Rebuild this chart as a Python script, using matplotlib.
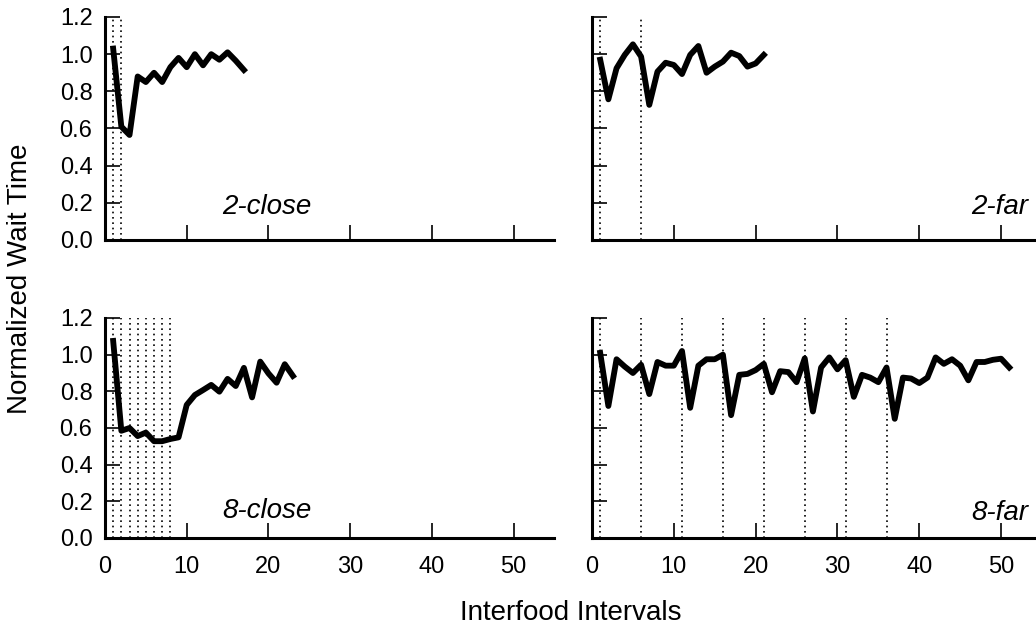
import numpy as np
import matplotlib.pyplot as plt

plt.rcParams['font.family'] = ['Liberation Sans', 'DejaVu Sans']

# normalized wait time per interfood interval, one array per condition
x_2close = np.arange(1, 18)
y_2close = [1.03, 0.61, 0.565, 0.88, 0.85, 0.90, 0.85, 0.93, 0.98, 0.93,
            1.00, 0.94, 1.00, 0.97, 1.01, 0.965, 0.915]

x_2far = np.arange(1, 22)
y_2far = [0.97, 0.757, 0.924, 0.996, 1.053, 0.987, 0.727, 0.906, 0.954, 0.942,
          0.893, 0.996, 1.044, 0.90, 0.933, 0.96, 1.008, 0.99, 0.933, 0.95, 0.996]

x_8close = np.arange(1, 24)
y_8close = [1.075, 0.585, 0.60, 0.556, 0.575, 0.528, 0.528, 0.54, 0.549, 0.726,
            0.78, 0.807, 0.835, 0.798, 0.868, 0.829, 0.928, 0.767, 0.962, 0.898,
            0.847, 0.948, 0.884]

x_8far = np.arange(1, 52)
y_8far = [1.01, 0.72, 0.975, 0.935, 0.90, 0.945, 0.785, 0.96, 0.94, 0.94,
          1.02, 0.71, 0.94, 0.975, 0.975, 1.00, 0.67, 0.89, 0.895, 0.916,
          0.95, 0.795, 0.91, 0.905, 0.85, 0.98, 0.69, 0.93, 0.985, 0.92,
          0.97, 0.77, 0.89, 0.875, 0.85, 0.93, 0.65, 0.875, 0.87, 0.845,
          0.875, 0.985, 0.95, 0.975, 0.94, 0.86, 0.96, 0.96, 0.972, 0.978, 0.93]

# where the dotted reference lines go
marks_2close = [1, 2]
marks_2far = [1, 6]
marks_8close = [1, 2, 3, 4, 5, 6, 7, 8]
marks_8far = [1, 6, 11, 16, 21, 26, 31, 36]

labels = ["2-close", "2-far", "8-close", "8-far"]

fig = plt.figure(figsize=(10.36, 6.31), dpi=100)

W, H = 1036, 631
left_l, left_r = 105 / W, 592 / W
width_l, width_r = 449.4 / W, 450 / W
bot_t, h_t = (H - 240) / H, 223 / H
bot_b, h_b = (H - 538) / H, 220 / H

ax_tl = fig.add_axes([left_l, bot_t, width_l, h_t])
ax_tr = fig.add_axes([left_r, bot_t, width_r, h_t])
ax_bl = fig.add_axes([left_l, bot_b, width_l, h_b])
ax_br = fig.add_axes([left_r, bot_b, width_r, h_b])

panels = [
    (ax_tl, x_2close, y_2close, marks_2close, labels[0], 19.8, 0.14, 'center'),
    (ax_tr, x_2far, y_2far, marks_2far, labels[1], 53.3, 0.14, 'right'),
    (ax_bl, x_8close, y_8close, marks_8close, labels[2], 19.8, 0.11, 'center'),
    (ax_br, x_8far, y_8far, marks_8far, labels[3], 53.3, 0.10, 'right'),
]

for ax, xs, ys, marks, lab, tx, ty, ha in panels:
    for m in marks:
        ax.axvline(m, color='black', lw=1.2, linestyle=(0, (1, 2.2)))
    ax.plot(xs, ys, color='black', lw=4.2)
    ax.text(tx, ty, lab, fontsize=20, style='italic', ha=ha, va='baseline')

    ax.set_xlim(0, 55)
    ax.set_ylim(0, 1.2)
    ax.set_xticks([0, 10, 20, 30, 40, 50])
    ax.set_yticks([0, 0.2, 0.4, 0.6, 0.8, 1.0, 1.2])
    ax.spines['top'].set_visible(False)
    ax.spines['right'].set_visible(False)
    ax.spines['left'].set_linewidth(2.2)
    ax.spines['bottom'].set_linewidth(2.2)
    ax.tick_params(direction='in', length=11, width=1.2, labelsize=17)
    ax.tick_params(axis='x', pad=13)
    ax.tick_params(axis='y', pad=9)

# top row: no x labels; right column: no y labels
for ax in [ax_tl, ax_tr]:
    ax.set_xticklabels([])
for ax in [ax_tr, ax_br]:
    ax.set_yticklabels([])
for ax in [ax_tl, ax_bl]:
    ax.set_yticklabels(["0.0", "0.2", "0.4", "0.6", "0.8", "1.0", "1.2"])

fig.text(571 / W, 1 - 613 / H, "Interfood Intervals", fontsize=20,
         ha='center', va='center')
fig.text(20 / W, 1 - 279 / H, "Normalized Wait Time", fontsize=20,
         rotation=90, ha='center', va='center')

plt.savefig("out.png", dpi=100)
